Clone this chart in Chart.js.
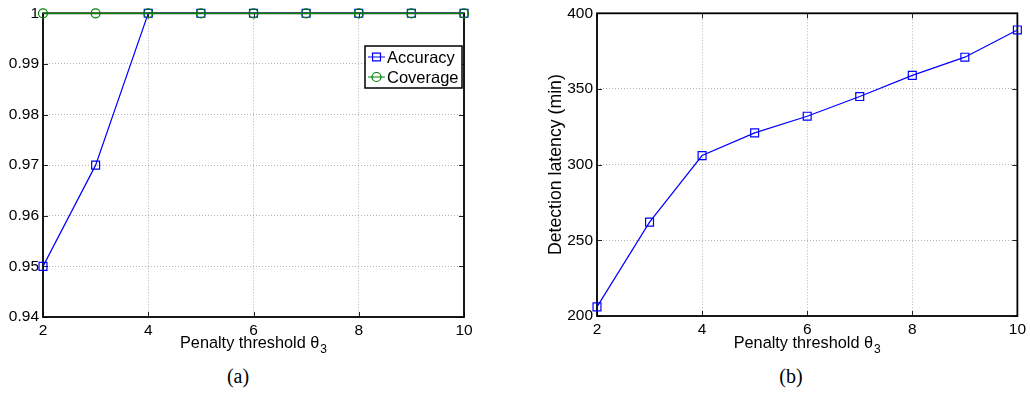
<!DOCTYPE html>
<html>
<head>
<meta charset="utf-8">
<script src="https://cdn.jsdelivr.net/npm/chart.js@4.4.0/dist/chart.umd.min.js"></script>
<style>
  body { margin: 0; background: #fff; width: 1030px; height: 410px; position: relative; overflow: hidden; }
  canvas { position: absolute; top: 0; }
  #chartAccuracy { left: 0; }
  #chartLatency { left: 530px; }
  .caption { position: absolute; top: 366px; width: 100px; text-align: center; line-height: 20px;
             font-family: "Liberation Serif", "DejaVu Serif", serif; font-size: 20px; color: #000; }
</style>
</head>
<body>
<canvas id="chartAccuracy" width="480" height="360"></canvas>
<canvas id="chartLatency" width="500" height="360"></canvas>
<div class="caption" style="left:188px">(a)</div>
<div class="caption" style="left:741px">(b)</div>
<script>
// penalty threshold values and measured results
const thresholds = [2, 3, 4, 5, 6, 7, 8, 9, 10];
const accuracy = [0.95, 0.97, 1, 1, 1, 1, 1, 1, 1];
const coverage = [1, 1, 1, 1, 1, 1, 1, 1, 1];
const latency = [206, 262, 306, 321, 332, 345, 359, 371, 389];

const thresholdTicks = [2, 4, 6, 8, 10];
const accuracyTicks = [0.94, 0.95, 0.96, 0.97, 0.98, 0.99, 1];
const latencyTicks = [200, 250, 300, 350, 400];

const FONT = '"Liberation Sans", Arial, Helvetica, sans-serif';
Chart.defaults.font.family = FONT;
Chart.defaults.color = '#000';

const points = ys => thresholds.map((x, i) => ({ x: x, y: ys[i] }));
const useTicks = list => scale => { scale.ticks = list.map(v => ({ value: v })); };

// box around the plot with short inward ticks on all four sides
const boxFrame = {
  id: 'boxFrame',
  beforeDatasetsDraw(chart) {
    const { ctx, chartArea: a, scales: { x, y } } = chart;
    ctx.save();
    ctx.strokeStyle = '#222';
    ctx.lineWidth = 1;
    ctx.beginPath();
    x.ticks.forEach(t => {
      const px = Math.round(x.getPixelForValue(t.value)) + 0.5;
      ctx.moveTo(px, a.bottom); ctx.lineTo(px, a.bottom - 5);
      ctx.moveTo(px, a.top); ctx.lineTo(px, a.top + 5);
    });
    y.ticks.forEach(t => {
      const py = Math.round(y.getPixelForValue(t.value)) + 0.5;
      ctx.moveTo(a.left, py); ctx.lineTo(a.left + 5, py);
      ctx.moveTo(a.right, py); ctx.lineTo(a.right - 5, py);
    });
    ctx.stroke();
    ctx.strokeStyle = '#000';
    ctx.lineWidth = 1.8;
    ctx.strokeRect(a.left, a.top, a.width, a.height);
    ctx.restore();
  }
};

// x axis title with a subscript
const xTitle = {
  id: 'xTitle',
  afterDraw(chart, args, opts) {
    const { ctx, chartArea: a } = chart;
    ctx.save();
    ctx.fillStyle = '#000';
    ctx.textBaseline = 'alphabetic';
    ctx.font = '16.3px ' + FONT;
    const w1 = ctx.measureText(opts.text).width;
    ctx.font = '12px ' + FONT;
    const w2 = ctx.measureText(opts.sub).width;
    const x0 = (a.left + a.right) / 2 - (w1 + w2 + 1) / 2;
    ctx.font = '16.3px ' + FONT;
    ctx.fillText(opts.text, x0, opts.baseline);
    ctx.font = '12px ' + FONT;
    ctx.fillText(opts.sub, x0 + w1 + 1, opts.baseline + 5);
    ctx.restore();
  }
};

// legend box placed inside the plot area
const insideLegend = {
  id: 'insideLegend',
  afterDraw(chart, args, opts) {
    if (!opts.show) return;
    const { ctx } = chart;
    const b = opts.box;
    ctx.save();
    ctx.fillStyle = '#fff';
    ctx.fillRect(b.left, b.top, b.width, b.height);
    ctx.strokeStyle = '#000';
    ctx.lineWidth = 1.5;
    ctx.strokeRect(b.left, b.top, b.width, b.height);
    chart.data.datasets.forEach((ds, i) => {
      const cy = b.top + 11 + i * 20;
      const lx = b.left + 3;
      ctx.strokeStyle = ds.borderColor;
      ctx.lineWidth = 1;
      ctx.beginPath();
      ctx.moveTo(lx, cy); ctx.lineTo(lx + 17, cy);
      ctx.stroke();
      ctx.fillStyle = 'rgba(0,0,0,0)';
      ctx.lineWidth = ds.pointBorderWidth;
      Chart.helpers.drawPoint(ctx, {
        pointStyle: ds.pointStyle, radius: ds.pointRadius, borderWidth: ds.pointBorderWidth
      }, lx + 8.5, cy);
      ctx.fillStyle = '#000';
      ctx.font = '16.5px ' + FONT;
      ctx.textBaseline = 'middle';
      ctx.fillText(ds.label, lx + 19, cy + 1);
    });
    ctx.restore();
  }
};

function series(label, values, color, style, radius, order) {
  return {
    label: label,
    data: points(values),
    order: order,
    borderColor: color,
    borderWidth: 1.2,
    pointStyle: style,
    pointRadius: radius,
    pointHoverRadius: radius,
    pointBorderColor: color,
    pointBackgroundColor: 'rgba(0,0,0,0)',
    pointBorderWidth: 1.2,
    tension: 0,
    clip: false
  };
}

function axes(yTicks, yMin, yMax, yWidth, yTitle, xHeight) {
  const grid = { color: '#b4b4b4', lineWidth: 1, drawTicks: false };
  return {
    x: {
      type: 'linear', min: 2, max: 10,
      afterBuildTicks: useTicks(thresholdTicks),
      afterFit: s => { s.height = xHeight; },
      grid: grid,
      border: { display: false, dash: [1, 2] },
      ticks: { padding: 4, font: { size: 15.5 }, color: '#000' }
    },
    y: {
      type: 'linear', min: yMin, max: yMax,
      afterBuildTicks: useTicks(yTicks),
      afterFit: s => { s.width = yWidth; },
      grid: grid,
      border: { display: false, dash: [1, 2] },
      ticks: { padding: 4, font: { size: 15.5 }, color: '#000', callback: v => String(v) },
      title: yTitle ? { display: true, text: yTitle, font: { size: 17.7 }, padding: { top: 15 } } : { display: false }
    }
  };
}

new Chart(document.getElementById('chartAccuracy'), {
  type: 'line',
  data: {
    datasets: [
      series('Accuracy', accuracy, '#0000ff', 'rect', 5.6, 1),
      series('Coverage', coverage, '#008000', 'circle', 4.5, 0)
    ]
  },
  options: {
    responsive: false,
    animation: false,
    layout: { padding: { top: 12, right: 16, bottom: 0, left: 0 } },
    scales: axes(accuracyTicks, 0.94, 1, 43, null, 43),
    plugins: {
      legend: { display: false },
      tooltip: { enabled: false },
      xTitle: { text: 'Penalty threshold \u03b8', sub: '3', baseline: 348 },
      insideLegend: { show: true, box: { left: 365, top: 46, width: 97, height: 42 } }
    }
  },
  plugins: [boxFrame, xTitle, insideLegend]
});

new Chart(document.getElementById('chartLatency'), {
  type: 'line',
  data: {
    datasets: [series('Detection latency', latency, '#0000ff', 'rect', 5.6, 0)]
  },
  options: {
    responsive: false,
    animation: false,
    layout: { padding: { top: 11, right: 12, bottom: 0, left: 0 } },
    scales: axes(latencyTicks, 200, 400, 67, 'Detection latency (min)', 44),
    plugins: {
      legend: { display: false },
      tooltip: { enabled: false },
      xTitle: { text: 'Penalty threshold \u03b8', sub: '3', baseline: 348 },
      insideLegend: { show: false }
    }
  },
  plugins: [boxFrame, xTitle, insideLegend]
});
</script>
</body>
</html>
